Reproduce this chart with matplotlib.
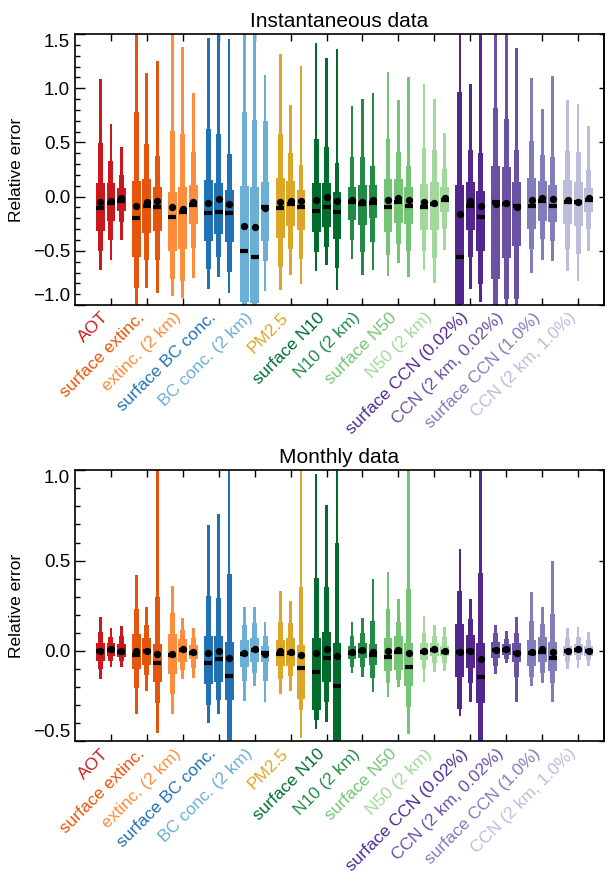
import matplotlib
matplotlib.use("Agg")
import matplotlib.pyplot as plt
import matplotlib.transforms as mtransforms
import numpy as np
from matplotlib.ticker import MultipleLocator, FuncFormatter

plt.rcParams["font.family"] = ["Liberation Sans", "DejaVu Sans"]

labels = ["AOT", "surface extinc.", "extinc. (2 km)", "surface BC conc.",
          "BC conc. (2 km)", "PM2.5", "surface N10", "N10 (2 km)",
          "surface N50", "N50 (2 km)", "surface CCN (0.02%)",
          "CCN (2 km, 0.02%)", "surface CCN (1.0%)", "CCN (2 km, 1.0%)"]

colors = ["#cb181d", "#e6550d", "#fd8d3c", "#2171b5", "#6baed6", "#dea626",
          "#006d2c", "#238b45", "#74c476", "#a1d99b", "#54278f", "#6a51a3",
          "#807dba", "#bcbddc"]

# instantaneous data, 3 boxes per variable
inst_lo95 = [[-0.676, -0.586, -0.401], [-1.05, -0.846, -0.886], [-0.917, -0.932, -0.747],
             [-0.855, -0.741, -0.886], [-1.3, -1.4, -0.87], [-0.864, -0.722, -0.809],
             [-0.685, -0.633, -0.861], [-0.577, -0.725, -0.679], [-0.731, -0.608, -0.741],
             [-0.679, -0.799, -0.494], [-1.5, -0.855, -0.969], [-1.3, -1.2, -1.1],
             [-0.701, -0.586, -0.593], [-0.685, -0.778, -0.5]]
inst_lo90 = [[-0.506, -0.398, -0.238], [-0.84, -0.583, -0.586], [-0.762, -0.778, -0.475],
             [-0.664, -0.556, -0.691], [-1.1, -1.2, -0.593], [-0.645, -0.484, -0.58],
             [-0.515, -0.463, -0.66], [-0.398, -0.515, -0.423], [-0.54, -0.438, -0.5],
             [-0.5, -0.562, -0.299], [-1.2, -0.553, -0.802], [-1.1, -0.948, -0.948],
             [-0.484, -0.392, -0.407], [-0.484, -0.525, -0.299]]
inst_q25 = [[-0.315, -0.222, -0.13], [-0.556, -0.336, -0.315], [-0.5, -0.484, -0.253],
            [-0.414, -0.346, -0.423], [-0.97, -0.98, -0.414], [-0.383, -0.275, -0.306],
            [-0.33, -0.284, -0.392], [-0.216, -0.262, -0.2], [-0.33, -0.247, -0.253],
            [-0.309, -0.306, -0.145], [-0.99, -0.306, -0.5], [-0.762, -0.562, -0.454],
            [-0.299, -0.222, -0.238], [-0.253, -0.269, -0.145]]
inst_med = [[-0.108, -0.06, -0.037], [-0.2, -0.09, -0.093], [-0.191, -0.145, -0.074],
            [-0.154, -0.139, -0.154], [-0.506, -0.553, -0.099], [-0.108, -0.068, -0.099],
            [-0.136, -0.099, -0.145], [-0.052, -0.068, -0.059], [-0.099, -0.052, -0.083],
            [-0.093, -0.068, -0.028], [-0.553, -0.09, -0.191], [-0.052, -0.068, -0.083],
            [-0.09, -0.037, -0.083], [-0.052, -0.052, -0.031]]
inst_q75 = [[0.123, 0.123, 0.077], [0.148, 0.164, 0.093], [0.046, 0.093, 0.111],
            [0.157, 0.127, 0.065], [0.102, 0.086, 0.133], [0.17, 0.148, 0.062],
            [0.123, 0.123, 0.04], [0.093, 0.111, 0.108], [0.164, 0.164, 0.093],
            [0.117, 0.139, 0.093], [0.108, 0.139, 0.056], [0.287, 0.271, 0.133],
            [0.17, 0.142, 0.108], [0.154, 0.139, 0.08]]
inst_hi90 = [[0.49, 0.333, 0.204], [0.781, 0.488, 0.373], [0.602, 0.574, 0.41],
             [0.627, 0.574, 0.395], [0.781, 0.704, 0.698], [0.574, 0.401, 0.293],
             [0.534, 0.457, 0.309], [0.364, 0.37, 0.278], [0.534, 0.41, 0.287],
             [0.447, 0.426, 0.256], [0.966, 0.426, 0.401], [0.818, 0.719, 0.432],
             [0.509, 0.386, 0.364], [0.417, 0.41, 0.247]]
inst_hi95 = [[1.083, 0.673, 0.457], [1.8, 1.142, 1.25], [1.6, 1.383, 0.957],
             [1.46, 1.55, 1.454], [1.6, 1.6, 1.12], [1.315, 0.843, 1.204],
             [1.414, 1.275, 1.361], [0.833, 0.898, 0.957], [1.151, 0.895, 1.099],
             [1.037, 0.898, 0.59], [1.6, 1.037, 1.6], [1.6, 1.6, 1.367],
             [1.09, 0.806, 1.111], [0.895, 0.858, 0.648]]
inst_mean = [[-0.05, -0.037, -0.015], [-0.083, -0.046, -0.037], [-0.099, -0.114, -0.046],
             [-0.059, -0.022, -0.068], [-0.269, -0.284, -0.105], [-0.052, -0.043, -0.043],
             [-0.031, 0.0, -0.043], [-0.031, -0.046, -0.031], [-0.031, -0.015, -0.031],
             [-0.052, -0.059, -0.012], [-0.16, -0.037, -0.09], [-0.068, -0.062, -0.099],
             [-0.028, -0.015, -0.022], [-0.031, -0.046, -0.012]]

# monthly data
mon_lo95 = [[-0.155, -0.09, -0.087], [-0.35, -0.221, -0.455], [-0.35, -0.157, -0.151],
            [-0.4, -0.35, -0.6], [-0.275, -0.194, -0.28], [-0.238, -0.22, -0.48],
            [-0.434, -0.391, -0.7], [-0.124, -0.146, -0.225], [-0.253, -0.197, -0.461],
            [-0.17, -0.114, -0.111], [-0.36, -0.28, -0.7], [-0.129, -0.068, -0.28],
            [-0.194, -0.179, -0.28], [-0.1, -0.096, -0.081]]
mon_lo90 = [[-0.1, -0.055, -0.055], [-0.203, -0.133, -0.289], [-0.238, -0.105, -0.096],
            [-0.299, -0.271, -0.52], [-0.166, -0.124, -0.164], [-0.155, -0.137, -0.327],
            [-0.38, -0.28, -0.6], [-0.087, -0.09, -0.151], [-0.179, -0.16, -0.308],
            [-0.1, -0.065, -0.068], [-0.32, -0.179, -0.6], [-0.081, -0.046, -0.142],
            [-0.142, -0.12, -0.179], [-0.059, -0.05, -0.05]]
mon_q25 = [[-0.054, -0.026, -0.031], [-0.1, -0.077, -0.17], [-0.127, -0.059, -0.044],
           [-0.183, -0.173, -0.271], [-0.087, -0.059, -0.063], [-0.081, -0.083, -0.267],
           [-0.327, -0.17, -0.52], [-0.046, -0.041, -0.077], [-0.111, -0.105, -0.194],
           [-0.05, -0.026, -0.028], [-0.142, -0.092, -0.289], [-0.037, -0.022, -0.063],
           [-0.081, -0.063, -0.111], [-0.026, -0.022, -0.026]]
mon_med = [[0.0, 0.006, -0.004], [-0.022, 0.0, -0.068], [-0.022, 0.006, -0.009],
           [-0.065, -0.046, -0.137], [-0.017, 0.006, -0.009], [-0.018, -0.013, -0.092],
           [-0.114, -0.041, -0.192], [-0.009, 0.0, -0.022], [-0.031, -0.004, -0.087],
           [-0.004, 0.006, -0.004], [-0.004, 0.0, -0.142], [0.006, 0.006, -0.009],
           [-0.013, -0.004, -0.037], [0.0, 0.006, 0.0]]
mon_q75 = [[0.046, 0.046, 0.039], [0.094, 0.07, 0.037], [0.094, 0.065, 0.033],
           [0.085, 0.085, 0.052], [0.061, 0.07, 0.029], [0.061, 0.07, 0.033],
           [0.07, 0.107, 0.042], [0.029, 0.042, 0.039], [0.07, 0.085, 0.042],
           [0.042, 0.046, 0.029], [0.149, 0.089, 0.046], [0.048, 0.039, 0.046],
           [0.061, 0.079, 0.052], [0.029, 0.039, 0.029]]
mon_hi90 = [[0.103, 0.079, 0.085], [0.231, 0.144, 0.3], [0.208, 0.116, 0.07],
            [0.304, 0.295, 0.424], [0.144, 0.153, 0.083], [0.159, 0.153, 0.356],
            [0.406, 0.356, 0.596], [0.083, 0.098, 0.166], [0.231, 0.162, 0.341],
            [0.098, 0.085, 0.079], [0.332, 0.177, 0.43], [0.098, 0.066, 0.098],
            [0.166, 0.148, 0.205], [0.07, 0.079, 0.061]]
mon_hi95 = [[0.19, 0.129, 0.14], [0.421, 0.245, 1.1], [0.36, 0.181, 0.129],
            [0.697, 0.758, 1.1], [0.245, 0.245, 0.162], [0.332, 0.277, 1.1],
            [0.98, 0.808, 1.1], [0.162, 0.184, 0.397], [0.435, 0.286, 1.1],
            [0.195, 0.144, 0.134], [0.564, 0.288, 1.1], [0.144, 0.112, 0.186],
            [0.325, 0.242, 0.5], [0.125, 0.134, 0.103]]
mon_mean = [[0.0, 0.011, 0.0], [0.0, 0.002, -0.017], [-0.017, 0.011, -0.004],
            [-0.013, 0.0, -0.041], [-0.013, 0.009, -0.017], [0.0, -0.004, -0.022],
            [-0.013, 0.009, -0.028], [-0.004, 0.006, -0.007], [0.0, 0.006, -0.013],
            [0.0, 0.011, 0.002], [-0.004, 0.0, -0.046], [0.006, 0.011, -0.013],
            [-0.004, 0.009, -0.004], [0.002, 0.011, 0.002]]


def minus_fmt(v, pos):
    return f"{v:.1f}".replace("-", "\u2212")


def draw_panel(ax, lo95, lo90, q25, med, q75, hi90, hi95, mean, ylim, title):
    lo95, lo90, q25, med = map(np.array, (lo95, lo90, q25, med))
    q75, hi90, hi95, mean = map(np.array, (q75, hi90, hi95, mean))
    xpos = np.arange(1, len(labels) + 1)
    for j, off in enumerate([-0.29, 0.0, 0.29]):
        x = xpos + off
        ax.bar(x, hi95[:, j] - lo95[:, j], bottom=lo95[:, j], width=0.075,
               color=colors, linewidth=0, zorder=2)
        ax.bar(x, hi90[:, j] - lo90[:, j], bottom=lo90[:, j], width=0.135,
               color=colors, linewidth=0, zorder=2)
        ax.bar(x, q75[:, j] - q25[:, j], bottom=q25[:, j], width=0.245,
               color=colors, linewidth=0, zorder=2)
        ax.plot(x, med[:, j], "_", color="k", ms=5.5, mew=3.0, zorder=3)
        ax.plot(x, mean[:, j], "o", color="k", ms=5.3, mew=0, zorder=4)

    ax.set_xlim(0.0, 14.72)
    ax.set_ylim(*ylim)
    ax.set_xticks(xpos)
    ax.set_xticklabels([])
    ax.tick_params(axis="x", which="major", direction="in", top=True,
                   bottom=True, length=5, width=1.0)
    yt = np.arange(ylim[0], ylim[1] + 0.01, 0.5)
    ax.set_yticks(yt)
    ax.yaxis.set_minor_locator(MultipleLocator(0.1))
    ax.yaxis.set_major_formatter(FuncFormatter(minus_fmt))
    ax.tick_params(axis="y", which="major", direction="in", length=7.5,
                   width=1.0, labelsize=13.5, pad=3.5)
    ax.tick_params(axis="y", which="minor", direction="in", length=3.8, width=1.0)
    for s in ax.spines.values():
        s.set_linewidth(1.2)

    right = ax.secondary_yaxis("right")
    right.set_yticks(yt)
    right.tick_params(direction="in", length=3.8, width=1.0, labelright=False)
    right.spines["right"].set_linewidth(1.2)

    # keep the end labels inside the axis span
    ticklabs = ax.yaxis.get_majorticklabels()
    ticklabs[0].set_va("bottom")
    ticklabs[-1].set_va("top")

    ax.set_title(title, fontsize=15, pad=5)
    ax.set_ylabel("Relative error", fontsize=12.5)
    ax.yaxis.set_label_coords(-0.097, 0.5)

    offset = mtransforms.ScaledTranslation(-1 / 72, -9.5 / 72, fig.dpi_scale_trans)
    trans = ax.get_xaxis_transform() + offset
    for i, name in enumerate(labels):
        ax.text(xpos[i], 0, name, transform=trans, rotation=45,
                rotation_mode="anchor", ha="right", va="baseline",
                fontsize=12.5, color=colors[i])


fig = plt.figure(figsize=(6.14, 8.72), dpi=100)
ax1 = fig.add_axes([0.1221, 0.6502, 0.8616, 0.3108])
ax2 = fig.add_axes([0.1221, 0.1499, 0.8616, 0.3108])

draw_panel(ax1, inst_lo95, inst_lo90, inst_q25, inst_med, inst_q75, inst_hi90,
           inst_hi95, inst_mean, (-1.0, 1.5), "Instantaneous data")
draw_panel(ax2, mon_lo95, mon_lo90, mon_q25, mon_med, mon_q75, mon_hi90,
           mon_hi95, mon_mean, (-0.5, 1.0), "Monthly data")

fig.savefig("out.png", dpi=100)
